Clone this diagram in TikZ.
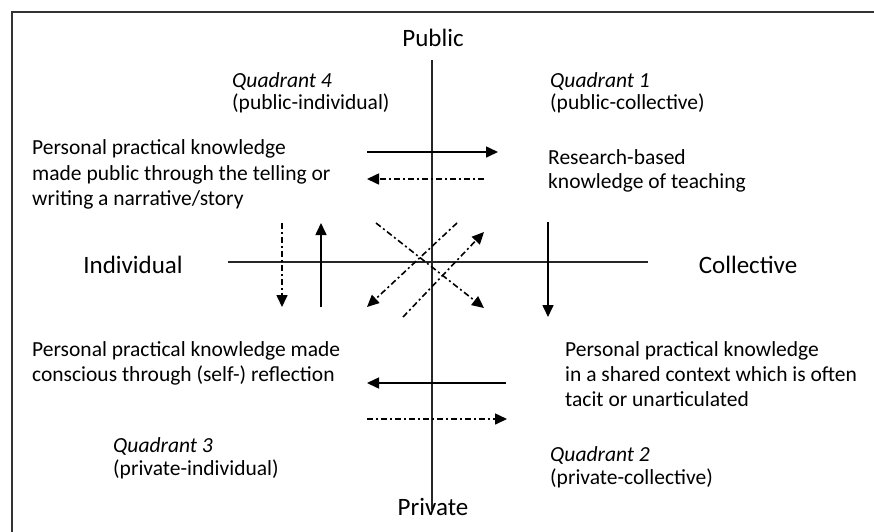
\documentclass[tikz,border=0pt]{standalone}
\usepackage{fontspec}
\setmainfont{Carlito}
\usetikzlibrary{arrows.meta}
\begin{document}
\begin{tikzpicture}[x=1pt,y=-1pt,
  txt/.style={anchor=base west,inner sep=0pt,font=\fontsize{21.5}{25}\selectfont},
  qtxt/.style={anchor=base west,inner sep=0pt,font=\fontsize{21.5}{25}\selectfont\itshape},
  axlab/.style={anchor=base,inner sep=0pt,font=\fontsize{25}{30}\selectfont},
  axisline/.style={line width=1.4pt,black!85},
  arr/.style={line width=1.6pt,-{Triangle[length=12pt,width=11pt]}},
  dd/.style={arr,dash pattern=on 6pt off 3pt on 2pt off 3pt}]
\useasboundingbox (0,0) rectangle (874,531);
\coordinate (fb) at (12,540);
\coordinate (fc) at (12,12);
\coordinate (fr) at (880,12);
\draw[line width=1.5pt,black!80] (fb) -- (fc) -- (fr);

% axes
\coordinate (vt) at (432,60);
\coordinate (vb) at (432,510);
\coordinate (hl) at (228,262);
\coordinate (hr) at (648,262);
\draw[axisline] (vt) -- (vb);
\draw[axisline] (hl) -- (hr);

% axis labels
\node[axlab] (pub) at (433,46) {Public};
\node[axlab] (priv) at (433,515) {Private};
\node[axlab] (ind) at (133,273) {Individual};
\node[axlab] (col) at (748,273) {Collective};

% quadrant labels
\node[qtxt] (q4a) at (232,87) {Quadrant 4};
\node[txt] (q4b) at (232,109) {(public-individual)};
\node[qtxt] (q1a) at (550,87) {Quadrant 1};
\node[txt] (q1b) at (550,109) {(public-collective)};
\node[qtxt] (q3a) at (113,452) {Quadrant 3};
\node[txt] (q3b) at (113,475) {(private-individual)};
\node[qtxt] (q2a) at (550,461) {Quadrant 2};
\node[txt] (q2b) at (550,484) {(private-collective)};

% text blocks
\node[txt] (tl1) at (32,154) {Personal practical knowledge};
\node[txt] (tl2) at (32,180) {made public through the telling or};
\node[txt] (tl3) at (32,205) {writing a narrative/story};
\node[txt] (tr1) at (548,164) {Research-based};
\node[txt] (tr2) at (548,188) {knowledge of teaching};
\node[txt] (bl1) at (32,356) {Personal practical knowledge made};
\node[txt] (bl2) at (32,381) {conscious through (self-) reflection};
\node[txt] (br1) at (565,356) {Personal practical knowledge};
\node[txt] (br2) at (565,381) {in a shared context which is often};
\node[txt] (br3) at (565,406) {tacit or unarticulated};

% horizontal arrows
\coordinate (a1s) at (367,152); \coordinate (a1e) at (498,152);
\draw[arr] (a1s) -- (a1e);
\coordinate (a2s) at (484,179); \coordinate (a2e) at (367,179);
\draw[dd] (a2s) -- (a2e);
\coordinate (a3s) at (506,383); \coordinate (a3e) at (367,383);
\draw[arr] (a3s) -- (a3e);
\coordinate (a4s) at (367,419); \coordinate (a4e) at (507,419);
\draw[dd] (a4s) -- (a4e);

% vertical arrows
\coordinate (v1s) at (282,223); \coordinate (v1e) at (282,307);
\draw[dd] (v1s) -- (v1e);
\coordinate (v2s) at (321,307); \coordinate (v2e) at (321,223);
\draw[arr] (v2s) -- (v2e);
\coordinate (v3s) at (548,222); \coordinate (v3e) at (548,317);
\draw[arr] (v3s) -- (v3e);

% diagonal arrows
\coordinate (d1s) at (376,223); \coordinate (d1e) at (484,308);
\draw[dd] (d1s) -- (d1e);
\coordinate (d2s) at (457,223); \coordinate (d2e) at (367,307);
\draw[dd] (d2s) -- (d2e);
\coordinate (d3s) at (403,317); \coordinate (d3e) at (484,232);
\draw[dd] (d3s) -- (d3e);
\end{tikzpicture}
\end{document}
